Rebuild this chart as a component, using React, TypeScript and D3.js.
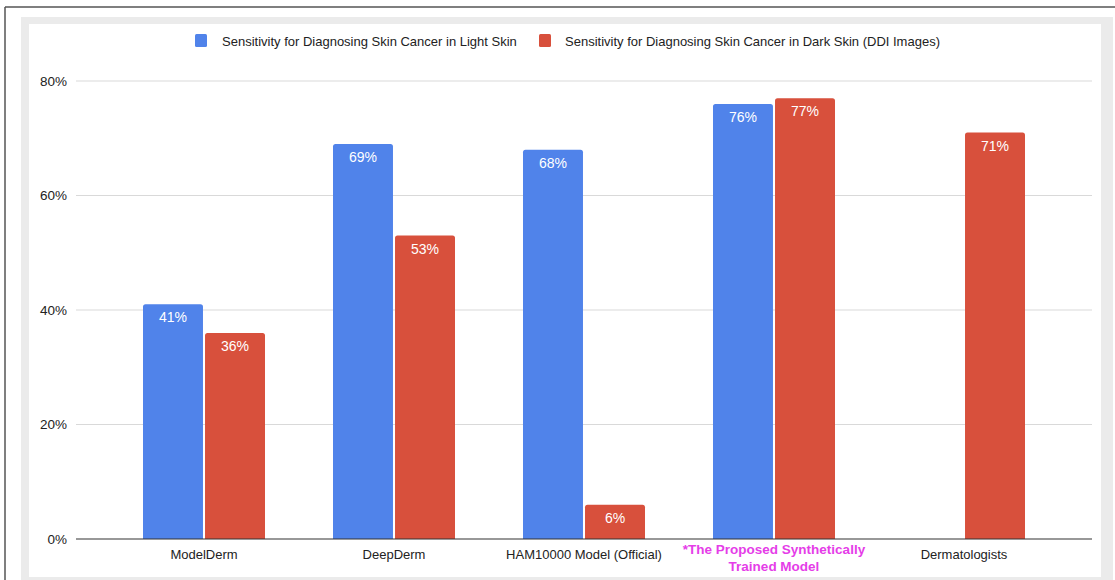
import React from "react";
import * as d3 from "d3";

const categories = [
  "ModelDerm",
  "DeepDerm",
  "HAM10000 Model (Official)",
  "*The Proposed Synthetically Trained Model",
  "Dermatologists",
];
const seriesNames = [
  "Sensitivity for Diagnosing Skin Cancer in Light Skin",
  "Sensitivity for Diagnosing Skin Cancer in Dark Skin (DDI Images)",
];
const lightSkin: (number | null)[] = [41, 69, 68, 76, null];
const darkSkin: (number | null)[] = [36, 53, 6, 77, 71];
const yTicks = [0, 20, 40, 60, 80];
const colors = ["#5083ea", "#d8503c"];

const W = 1115;
const H = 580;
const left = 76;
const right = 1092;
const top = 81;
const bottom = 539;

export default function App() {
  const y = d3.scaleLinear().domain([0, 80]).range([bottom, top]);
  const x = d3
    .scaleBand<string>()
    .domain(categories)
    .range([left, right])
    .paddingInner(0)
    .paddingOuter(0.1737);
  const sub = d3
    .scaleBand<number>()
    .domain([0, 1])
    .range([x.bandwidth() / 2 - 61, x.bandwidth() / 2 + 61])
    .paddingInner(0.033);
  const series = [lightSkin, darkSkin];
  const font = "Liberation Sans, Arial, sans-serif";

  const barPath = (x0: number, y0: number, w: number, h: number, r: number) =>
    `M${x0},${y0 + h}V${y0 + r}Q${x0},${y0} ${x0 + r},${y0}H${x0 + w - r}Q${x0 + w},${y0} ${x0 + w},${y0 + r}V${y0 + h}Z`;

  return (
    <svg
      width={W}
      height={H}
      style={{ position: "absolute", left: 0, top: 0, background: "#fff" }}
      fontFamily={font}
    >
      {/* frame */}
      <rect x={0} y={0} width={W} height={H} fill="#fff" />
      <line x1={5} y1={7} x2={W} y2={7} stroke="#555" strokeWidth={1.5} />
      <line x1={5} y1={7} x2={5} y2={H} stroke="#555" strokeWidth={1.5} />
      <rect x={21} y={17} width={1092} height={H} fill="#ebebeb" />
      <rect x={29} y={24} width={1072} height={553} fill="#fff" />

      {/* legend */}
      <g fontSize={13} fill="#222">
        <rect x={195} y={34} width={12} height={13} rx={1.5} fill={colors[0]} />
        <text x={222} y={45.5}>{seriesNames[0]}</text>
        <rect x={539} y={34} width={12} height={13} rx={1.5} fill={colors[1]} />
        <text x={565} y={45.5}>{seriesNames[1]}</text>
      </g>

      {/* grid */}
      {yTicks.map((t) => (
        <g key={t}>
          {t !== 0 && (
            <line x1={left} x2={right} y1={y(t)} y2={y(t)} stroke="#d9d9d9" strokeWidth={1} />
          )}
          <text x={67} y={y(t) + 4.5} textAnchor="end" fontSize={13.5} fill="#222">
            {t}%
          </text>
        </g>
      ))}

      {/* bars */}
      {categories.map((c, ci) => (
        <g key={c} transform={`translate(${x(c)},0)`}>
          {series.map((s, si) => {
            const v = s[ci];
            if (v == null) return null;
            const bx = sub(si)!;
            const bw = sub.bandwidth();
            const by = y(v);
            return (
              <g key={si}>
                <path d={barPath(bx, by, bw, bottom - by, 2.5)} fill={colors[si]} />
                <text
                  x={bx + bw / 2}
                  y={by + 18}
                  textAnchor="middle"
                  fontSize={14}
                  fill="#fff"
                >
                  {v}%
                </text>
              </g>
            );
          })}
        </g>
      ))}

      {/* baseline */}
      <line x1={left} x2={right} y1={bottom} y2={bottom} stroke="#333" strokeWidth={1.2} />

      {/* x labels */}
      {categories.map((c, ci) => {
        const cx = x(c)! + x.bandwidth() / 2;
        if (c.startsWith("*")) {
          return (
            <text key={c} textAnchor="middle" fontSize={13.5} fontWeight="bold" fill="#e53de8">
              <tspan x={cx} y={554}>*The Proposed Synthetically</tspan>
              <tspan x={cx} y={571}>Trained Model</tspan>
            </text>
          );
        }
        return (
          <text key={c} x={cx} y={559} textAnchor="middle" fontSize={13} fill="#222">
            {c}
          </text>
        );
      })}
    </svg>
  );
}
